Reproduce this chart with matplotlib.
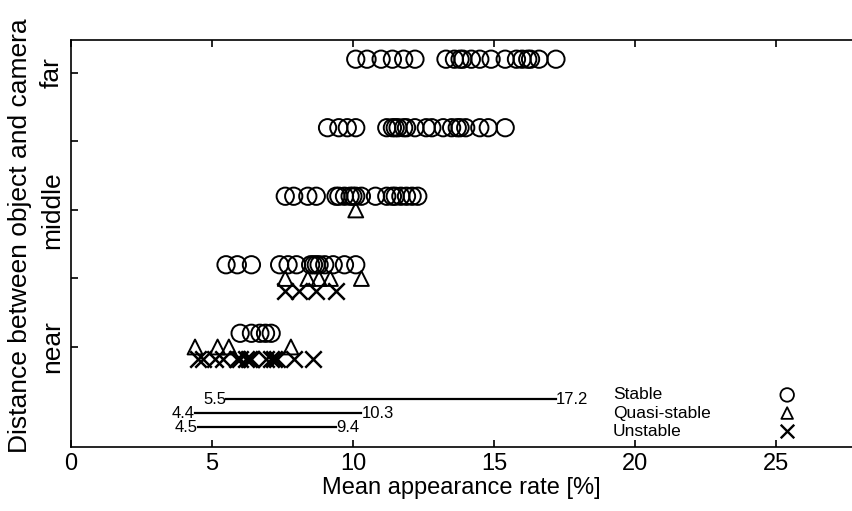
import numpy as np
import matplotlib
matplotlib.use('Agg')
import matplotlib.pyplot as plt

plt.rcParams['font.family'] = ['Liberation Sans', 'DejaVu Sans']

# Mean appearance rate [%] per distance group (1 = near ... 5 = far)
stable_far = [10.1, 10.5, 11.0, 11.4, 11.8, 12.2, 13.3, 13.6, 13.8, 13.9, 14.2, 14.5, 14.9,
              15.4, 15.8, 16.0, 16.2, 16.3, 16.6, 17.2]
stable_farmid = [9.1, 9.5, 9.8, 10.1, 11.2, 11.4, 11.5, 11.6, 11.8, 11.9, 12.2, 12.6, 12.8,
                 13.2, 13.5, 13.7, 13.8, 14.0, 14.5, 14.8, 15.4]
stable_mid = [7.6, 7.9, 8.4, 8.7, 9.4, 9.5, 9.7, 9.9, 10.0, 10.1, 10.3, 10.8, 11.2, 11.4,
              11.5, 11.7, 11.9, 12.1, 12.3]
stable_midnear = [5.5, 5.9, 6.4, 7.4, 7.7, 8.0, 8.5, 8.6, 8.7, 8.8, 9.0, 9.3, 9.7, 10.1]
stable_near = [6.0, 6.4, 6.7, 6.9, 7.1]

quasi_mid = [10.1]
quasi_midnear = [7.6, 8.4, 8.8, 9.2, 10.3]
quasi_near = [4.4, 5.2, 5.6, 7.8]

unstable_midnear = [7.6, 8.1, 8.7, 9.4]
unstable_near = [4.5, 4.7, 5.1, 5.4, 5.9, 6.0, 6.2, 6.3, 6.4, 6.9, 7.1, 7.2, 7.3, 7.9, 8.6]

stable_groups = [stable_near, stable_midnear, stable_mid, stable_farmid, stable_far]
quasi_groups = [quasi_near, quasi_midnear, quasi_mid, [], []]
unstable_groups = [unstable_near, unstable_midnear, [], [], []]

# overall ranges (min, max) per class
range_names = ['Stable', 'Quasi-stable', 'Unstable']
range_min = [5.5, 4.4, 4.5]
range_max = [17.2, 10.3, 9.4]

ytick_labels = ['near', '', 'middle', '', 'far']

fig = plt.figure(figsize=(8.52, 5.11), dpi=100)
ax = fig.add_axes([0.0833, 0.1252, 0.9167, 0.7965])

for i, (s, q, u) in enumerate(zip(stable_groups, quasi_groups, unstable_groups)):
    g = i + 1
    ax.scatter(s, [g + 0.2] * len(s), s=155, marker='o', facecolors='none',
               edgecolors='black', linewidths=1.4, zorder=3)
    if q:
        ax.scatter(q, [g] * len(q), s=115, marker='^', facecolors='none',
                   edgecolors='black', linewidths=1.4, zorder=3)
    if u:
        ax.scatter(u, [g - 0.18] * len(u), s=140, marker='x', color='black',
                   linewidths=1.8, zorder=3)

# range bars at the bottom
bar_y = [0.24, 0.03, -0.17]
for lo, hi, yy in zip(range_min, range_max, bar_y):
    ax.plot([lo, hi], [yy, yy], color='black', lw=1.6)
    ax.text(lo, yy, '%.1f' % lo, ha='right', va='center', fontsize=12)
    ax.text(hi, yy, '%.1f' % hi, ha='left', va='center', fontsize=12)

# legend key
leg_y = [0.128, 0.0835, 0.039]
leg_mk = [dict(marker='o', s=95, facecolors='none', edgecolors='black', linewidths=1.3),
          dict(marker='^', s=70, facecolors='none', edgecolors='black', linewidths=1.3),
          dict(marker='x', s=95, color='black', linewidths=1.7)]
for name, yy, mk in zip(range_names, leg_y, leg_mk):
    ax.text(0.694, yy, name, transform=ax.transAxes, ha='left', va='center', fontsize=12.5)
    ax.scatter([0.917], [yy], transform=ax.transAxes, clip_on=False, **mk)

ax.set_xlim(0, 27.7)
ax.set_ylim(-0.46, 5.48)
ax.set_xticks([0, 5, 10, 15, 20, 25])
ax.set_yticks([1, 2, 3, 4, 5])
ax.set_yticklabels(ytick_labels, rotation=90, va='center')
ax.tick_params(direction='in', length=5, width=1.2, top=True)
ax.tick_params(axis='x', pad=4, labelsize=17)
ax.tick_params(axis='y', pad=5, labelsize=19)
ax.spines['right'].set_visible(False)
for sp in ['left', 'bottom', 'top']:
    ax.spines[sp].set_linewidth(1.2)

ax.set_xlabel('Mean appearance rate [%]', fontsize=17, labelpad=2)
ax.set_ylabel('Distance between object and camera', fontsize=19)
ax.yaxis.set_label_coords(-0.05, 0.52)

fig.savefig('out.png', dpi=100)
